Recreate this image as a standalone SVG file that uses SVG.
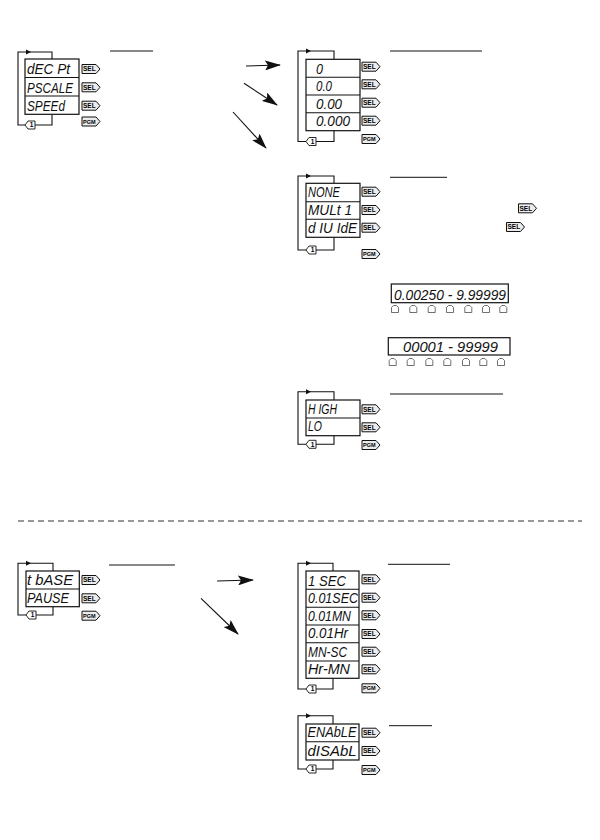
<svg xmlns="http://www.w3.org/2000/svg" xmlns:xlink="http://www.w3.org/1999/xlink" width="600" height="840" viewBox="0 0 600 840">
<style>
.box{fill:#fff;stroke:#111;stroke-width:1.2}
.div{stroke:#111;stroke-width:1.1}
.loop{fill:none;stroke:#111;stroke-width:1.1}
.disp{font-family:"Liberation Sans",Arial,sans-serif;font-style:italic;font-size:14px;fill:#111}
.num{font-family:"Liberation Sans",Arial,sans-serif;font-style:italic;font-size:15px;fill:#111}
.btn{fill:#ececec;stroke:#111;stroke-width:1}
.btxt{font-family:"Liberation Sans",Arial,sans-serif;font-weight:bold;font-size:6.5px;fill:#000;text-anchor:middle}
.uline{stroke:#111;stroke-width:1}
.arr{stroke:#111;stroke-width:1.1;fill:none}
.key{fill:none;stroke:#333;stroke-width:0.7}
</style>
<defs>
<g id="sel"><path class="btn" d="M0,-4.5 H14 L18,0 L14,4.5 H0 Z"/><text class="btxt" x="7.3" y="2.3">SEL</text></g>
<g id="pgm"><path class="btn" d="M0,-4.5 H14 L18,0 L14,4.5 H0 Z"/><text class="btxt" x="7.3" y="2.1" style="font-size:5.5px">PGM</text></g>
<g id="tag"><path fill="#fff" stroke="#111" stroke-width="0.9" d="M0,0 L3,-4 H10 V4 H3 Z"/><text class="btxt" x="6.5" y="2.4" style="font-size:6.5px">1</text></g>
<path id="key" class="key" d="M0,7 V2 L2,0 H5 L7,2 V7 Z"/>
<marker id="ah" viewBox="0 0 16 10" refX="15" refY="5" markerWidth="16" markerHeight="10" markerUnits="userSpaceOnUse" orient="auto"><path d="M0,0 L16,5 L0,10 L3,5 Z" fill="#111"/></marker>
</defs>

<!-- Menu 1 -->
<g id="menu-decpt">
<path class="loop" d="M52,59 V52 H18 V125 H25 M35,125 H52 V114.3"/>
<polygon points="26,49.5 31,52 26,54.5" fill="#111"/>
<rect class="box" x="25" y="59" width="54" height="55.3"/>
<line class="div" x1="25" y1="77.5" x2="79" y2="77.5"/>
<line class="div" x1="25" y1="96" x2="79" y2="96"/>
<text class="disp" x="27" y="74.3" textLength="43" lengthAdjust="spacingAndGlyphs">dEC Pt</text>
<text class="disp" x="27" y="92.7" textLength="46" lengthAdjust="spacingAndGlyphs">PSCALE</text>
<text class="disp" x="27" y="110.9" textLength="38" lengthAdjust="spacingAndGlyphs">SPEEd</text>
<use href="#tag" x="25" y="125"/>
<use href="#sel" x="82" y="69"/>
<use href="#sel" x="82" y="87.3"/>
<use href="#sel" x="82" y="105.7"/>
<use href="#pgm" x="82" y="121.5"/>
<line class="uline" x1="110" y1="51" x2="153" y2="51"/>
</g>

<!-- Menu 2: decimal point -->
<g id="menu-dp">
<path class="loop" d="M334,59.3 V51 H298 V141.5 H306 M316,141.5 H334 V130.7"/>
<polygon points="306,48.5 311,51 306,53.5" fill="#111"/>
<rect class="box" x="306" y="59.3" width="54" height="71.4"/>
<line class="div" x1="306" y1="77.3" x2="360" y2="77.3"/>
<line class="div" x1="306" y1="95" x2="360" y2="95"/>
<line class="div" x1="306" y1="112.7" x2="360" y2="112.7"/>
<text class="disp" x="316" y="73.5" textLength="7" lengthAdjust="spacingAndGlyphs">0</text>
<text class="disp" x="316" y="91" textLength="16" lengthAdjust="spacingAndGlyphs">0.0</text>
<text class="disp" x="316" y="108.6" textLength="26" lengthAdjust="spacingAndGlyphs">0.00</text>
<text class="disp" x="316" y="126.3" textLength="34" lengthAdjust="spacingAndGlyphs">0.000</text>
<use href="#tag" x="306" y="141.5"/>
<use href="#sel" x="362" y="66.7"/>
<use href="#sel" x="362" y="84.3"/>
<use href="#sel" x="362" y="102.7"/>
<use href="#sel" x="362" y="120.7"/>
<use href="#pgm" x="362" y="139"/>
<line class="uline" x1="390" y1="51" x2="482" y2="51"/>
</g>

<!-- Menu 3: prescale -->
<g id="menu-pscale">
<path class="loop" d="M334,183.3 V176 H298 V250 H306 M316,250 H334 V237.3"/>
<polygon points="306,173.5 311,176 306,178.5" fill="#111"/>
<rect class="box" x="306" y="183.3" width="54" height="54"/>
<line class="div" x1="306" y1="201.7" x2="360" y2="201.7"/>
<line class="div" x1="306" y1="219.3" x2="360" y2="219.3"/>
<text class="disp" x="308" y="197.2" textLength="32" lengthAdjust="spacingAndGlyphs">NONE</text>
<text class="disp" x="308" y="215.2" textLength="44" lengthAdjust="spacingAndGlyphs">MULt 1</text>
<text class="disp" x="308" y="232.9" textLength="49" lengthAdjust="spacingAndGlyphs">d IU IdE</text>
<use href="#tag" x="306" y="250"/>
<use href="#sel" x="362" y="191.7"/>
<use href="#sel" x="362" y="210"/>
<use href="#sel" x="362" y="227.7"/>
<use href="#pgm" x="362" y="254"/>
<line class="uline" x1="390" y1="177.3" x2="447" y2="177.3"/>
<use href="#sel" x="518.5" y="208.3"/>
<use href="#sel" x="506.5" y="227"/>
</g>

<!-- Range displays -->
<g id="range-mult">
<rect class="box" x="391.3" y="284" width="117" height="18.7"/>
<text class="num" x="394" y="300" textLength="112" lengthAdjust="spacingAndGlyphs">0.00250 - 9.99999</text>
<use href="#key" x="391.5" y="305.5"/>
<use href="#key" x="409.8" y="305.5"/>
<use href="#key" x="428.2" y="305.5"/>
<use href="#key" x="446.5" y="305.5"/>
<use href="#key" x="464.8" y="305.5"/>
<use href="#key" x="482.5" y="305.5"/>
<use href="#key" x="499.8" y="305.5"/>
</g>
<g id="range-div">
<rect class="box" x="388.3" y="337.7" width="121.7" height="17.3"/>
<text class="num" x="403" y="352" style="font-size:14px" textLength="95" lengthAdjust="spacingAndGlyphs">00001 - 99999</text>
<use href="#key" x="389.2" y="358.5"/>
<use href="#key" x="407.2" y="358.5"/>
<use href="#key" x="425.8" y="358.5"/>
<use href="#key" x="443.8" y="358.5"/>
<use href="#key" x="462.5" y="358.5"/>
<use href="#key" x="479.8" y="358.5"/>
<use href="#key" x="497.5" y="358.5"/>
</g>

<!-- Menu 4: speed -->
<g id="menu-speed">
<path class="loop" d="M334,400 V391.7 H298 V444.3 H306 M316,444.3 H334 V435.7"/>
<polygon points="306,389.2 311,391.7 306,394.2" fill="#111"/>
<rect class="box" x="306" y="400" width="54" height="35.7"/>
<line class="div" x1="306" y1="418" x2="360" y2="418"/>
<text class="disp" x="308" y="413.7" textLength="29" lengthAdjust="spacingAndGlyphs">H IGH</text>
<text class="disp" x="308" y="431.4" textLength="14" lengthAdjust="spacingAndGlyphs">LO</text>
<use href="#tag" x="306" y="444.3"/>
<use href="#sel" x="362" y="409.3"/>
<use href="#sel" x="362" y="427.3"/>
<use href="#pgm" x="362" y="445"/>
<line class="uline" x1="390" y1="394" x2="503" y2="394"/>
</g>

<line x1="18" y1="521" x2="582" y2="521" stroke="#333" stroke-width="1" stroke-dasharray="6 4"/>

<!-- Menu 5: time base -->
<g id="menu-tbase">
<path class="loop" d="M53,571 V563.3 H18 V615 H26 M36,615 H53 V606.7"/>
<polygon points="26,560.8 31,563.3 26,565.8" fill="#111"/>
<rect class="box" x="26" y="571" width="53.3" height="35.7"/>
<line class="div" x1="26" y1="589" x2="79.3" y2="589"/>
<text class="disp" x="27" y="585.2" textLength="46" lengthAdjust="spacingAndGlyphs">t bASE</text>
<text class="disp" x="27" y="603" textLength="42" lengthAdjust="spacingAndGlyphs">PAUSE</text>
<use href="#tag" x="26" y="615"/>
<use href="#sel" x="82" y="580"/>
<use href="#sel" x="82" y="598.3"/>
<use href="#pgm" x="82" y="615.7"/>
<line class="uline" x1="109" y1="565" x2="175" y2="565"/>
</g>

<!-- Menu 6: time base values -->
<g id="menu-tbase-val">
<path class="loop" d="M333,571 V563.3 H298 V689 H306 M316,689 H333 V678.3"/>
<polygon points="306,560.8 311,563.3 306,565.8" fill="#111"/>
<rect class="box" x="306" y="571" width="53" height="107.3"/>
<line class="div" x1="306" y1="589.3" x2="359" y2="589.3"/>
<line class="div" x1="306" y1="607.3" x2="359" y2="607.3"/>
<line class="div" x1="306" y1="625" x2="359" y2="625"/>
<line class="div" x1="306" y1="642.7" x2="359" y2="642.7"/>
<line class="div" x1="306" y1="661" x2="359" y2="661"/>
<text class="disp" x="308" y="585.5" textLength="38" lengthAdjust="spacingAndGlyphs">1 SEC</text>
<text class="disp" x="308" y="602.7" textLength="50" lengthAdjust="spacingAndGlyphs">0.01SEC</text>
<text class="disp" x="308" y="620.7" textLength="43" lengthAdjust="spacingAndGlyphs">0.01MN</text>
<text class="disp" x="308" y="638.2" textLength="40" lengthAdjust="spacingAndGlyphs">0.01Hr</text>
<text class="disp" x="308" y="656.5" textLength="39" lengthAdjust="spacingAndGlyphs">MN-SC</text>
<text class="disp" x="308" y="674.2" textLength="42" lengthAdjust="spacingAndGlyphs">Hr-MN</text>
<use href="#tag" x="306" y="689"/>
<use href="#sel" x="362" y="579.3"/>
<use href="#sel" x="362" y="597.7"/>
<use href="#sel" x="362" y="615.3"/>
<use href="#sel" x="362" y="634"/>
<use href="#sel" x="362" y="651.7"/>
<use href="#sel" x="362" y="669.3"/>
<use href="#pgm" x="362" y="688.3"/>
<line class="uline" x1="388" y1="564.3" x2="450" y2="564.3"/>
</g>

<!-- Menu 7: pause -->
<g id="menu-pause">
<path class="loop" d="M333,724 V715.7 H298 V769 H306 M316,769 H333 V760"/>
<polygon points="306,713.2 311,715.7 306,718.2" fill="#111"/>
<rect class="box" x="306" y="724" width="53" height="36"/>
<line class="div" x1="306" y1="741.7" x2="359" y2="741.7"/>
<text class="disp" x="307.5" y="737.2" textLength="49" lengthAdjust="spacingAndGlyphs">ENAbLE</text>
<text class="disp" x="307.5" y="755.5" textLength="49" lengthAdjust="spacingAndGlyphs">dISAbL</text>
<use href="#tag" x="306" y="769"/>
<use href="#sel" x="362" y="732.7"/>
<use href="#sel" x="362" y="751"/>
<use href="#pgm" x="362" y="770"/>
<line class="uline" x1="389" y1="725.7" x2="432" y2="725.7"/>
</g>

<!-- Connectors -->
<g id="connectors">
<line class="arr" x1="246" y1="66" x2="280" y2="65" marker-end="url(#ah)"/>
<line class="arr" x1="244" y1="83.3" x2="277" y2="105" marker-end="url(#ah)"/>
<line class="arr" x1="233" y1="112" x2="266" y2="148" marker-end="url(#ah)"/>
<line class="arr" x1="217" y1="581" x2="253" y2="580" marker-end="url(#ah)"/>
<line class="arr" x1="201" y1="598.3" x2="238" y2="634" marker-end="url(#ah)"/>
</g>
</svg>
